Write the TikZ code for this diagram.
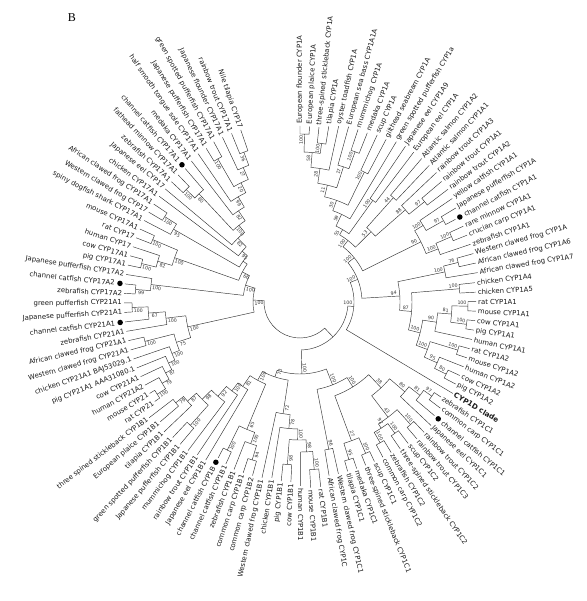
\documentclass[tikz,border=0pt]{standalone}
\usepackage{fontspec}
\setmainfont{DejaVu Sans}
\newfontfamily\panelfont{Liberation Serif}
\tikzset{
  branch/.style={draw=black!80, line width=0.45pt},
  leaflbl/.style={font=\fontsize{6.9}{7}\selectfont, inner sep=0pt, text=black!90},
  bslbl/.style={font=\fontsize{4.7}{5}\selectfont, inner sep=0pt, text=black!80},
  catdot/.style={circle, fill=black, inner sep=0pt, minimum size=5.5pt},
}
\newcommand\SetA[2]{\expandafter\xdef\csname ang@#1\endcsname{#2}}
\newcommand\GetA[1]{\csname ang@#1\endcsname}
% generic leaf: name, index, label, dot flag, extra style, tip radius
\newcommand\LeafGen[6]{%
  \pgfmathsetmacro\lfang{90-3.1*(#2-1)}%
  \SetA{#1}{\lfang}%
  \coordinate (#1) at (\lfang:#6pt);
  \ifnum#4=1
    \pgfmathsetmacro\lfd{#6+5}%
    \node[catdot] (#1-dot) at (\lfang:\lfd pt) {};
    \pgfmathsetmacro\lfr{#6+10}%
  \else
    \pgfmathsetmacro\lfr{#6+2}%
  \fi
  \pgfmathsetmacro\lfcos{cos(\lfang)}%
  \ifdim\lfcos pt<0pt
    \pgfmathsetmacro\lfrot{\lfang+180}\def\lfanc{east}%
  \else
    \pgfmathsetmacro\lfrot{\lfang}\def\lfanc{west}%
  \fi
  \node[leaflbl, anchor=\lfanc, rotate=\lfrot, #5] (#1-t) at (\lfang:\lfr pt) {#3};
}
\newcommand\Lf[3][176]{\LeafGen{l#2}{#2}{#3}{0}{}{#1}}
\newcommand\Ld[3][176]{\LeafGen{l#2}{#2}{#3}{1}{}{#1}}
% internal node: name, radius, bootstrap, children
\newcommand\In[4]{%
  \foreach \ch [count=\k] in {#4}{\ifnum\k=1 \xdef\firstch{\ch}\fi\xdef\lastch{\ch}}%
  \pgfmathsetmacro\inang{(\GetA{\firstch}+\GetA{\lastch})/2}%
  \SetA{#1}{\inang}%
  \coordinate (#1) at (\inang:#2pt);
  \foreach \ch in {#4}{%
    \draw[branch] (#1) arc[start angle=\GetA{#1}, end angle=\GetA{\ch}, radius=#2pt] -- (\ch);
  }%
  \def\bstmp{#3}%
  \ifx\bstmp\empty\else
    \pgfmathsetmacro\bsang{\inang+190/#2}%
    \pgfmathsetmacro\bsr{#2-6}%
    \pgfmathsetmacro\bscos{cos(\bsang)}%
    \ifdim\bscos pt<0pt \pgfmathsetmacro\bsrot{\bsang+180}\else\pgfmathsetmacro\bsrot{\bsang}\fi
    \node[bslbl, rotate=\bsrot] (#1-bs) at (\bsang:\bsr pt) {#3};
  \fi
}
\begin{document}
\begin{tikzpicture}
\useasboundingbox (0,0) rectangle (586pt,601pt);
\node[font=\panelfont\fontsize{12}{12}\selectfont] (panel) at (72pt,583pt) {B};
\begin{scope}[shift={(300pt,299pt)}]
% ---------- leaves ----------
\Lf{1}{European flounder CYP1A}
\Lf{2}{European plaice CYP1A}
\Lf{3}{three-spined stickleback CYP1A}
\Lf[178]{4}{tilapia CYP1A}
\Lf[180]{5}{oyster toadfish CYP1A}
\Lf[182]{6}{European sea bass CYP1A1A}
\Lf[182]{7}{mummichog CYP1A}
\Lf[182]{8}{medaka CYP1A}
\Lf[184]{9}{scup CYP1A}
\Lf[184]{10}{gilthead seabream CYP1A}
\Lf[187]{11}{green spotted pufferfish CYP1a}
\Lf[188]{12}{Japanese eel CYP1A9}
\Lf[188]{13}{European eel CYP1A}
\Lf[188]{14}{Atlantic salmon CYP1A2}
\Lf[188]{15}{Atlantic salmon CYP1A1}
\Lf[188]{16}{rainbow trout CYP1A3}
\Lf[186]{17}{rainbow trout CYP1A1}
\Lf[186]{18}{rainbow trout CYP1A2}
\Lf[184]{19}{yellow catfish CYP1A1}
\Lf[182]{20}{Japanese pufferfish CYP1A}
\Ld[176]{21}{channel catfish CYP1A1}
\Lf[180]{22}{rare minnow CYP1A1}
\Lf[180]{23}{crucian carp CYP1A1}
\Lf[180]{24}{zebrafish CYP1A1}
\Lf[180]{25}{Western clawed frog CYP1A}
\Lf[180]{26}{African clawed frog CYP1A6}
\Lf[180]{27}{African clawed frog CYP1A7}
\Lf{28}{chicken CYP1A4}
\Lf{29}{chicken CYP1A5}
\Lf{30}{rat CYP1A1}
\Lf{31}{mouse CYP1A1}
\Lf{32}{cow CYP1A1}
\Lf{33}{pig CYP1A1}
\Lf{34}{human CYP1A1}
\Lf{35}{rat CYP1A2}
\Lf{36}{mouse CYP1A2}
\Lf{37}{human CYP1A2}
\Lf{38}{cow CYP1A2}
\Lf{39}{pig CYP1A2}
\LeafGen{l40}{40}{CYP1D clade}{0}{font=\fontsize{7.2}{7}\selectfont\bfseries}{178}
\Lf[170]{41}{zebrafish CYP1C1}
\Lf[176]{42}{common carp CYP1C1}
\Ld[176]{43}{channel catfish CYP1C1}
\Lf[180]{44}{Japanese eel CYP1C1}
\Lf[180]{45}{rainbow trout CYP1C2}
\Lf[180]{46}{rainbow trout CYP1C3}
\Lf[178]{47}{scup CYP1C2}
\Lf[178]{48}{three-spined stickleback CYP1C2}
\Lf{49}{zebrafish CYP1C2}
\Lf{50}{common carp CYP1C2}
\Lf{51}{scup CYP1C1}
\Lf{52}{three-spined stickleback CYP1C1}
\Lf{53}{medaka CYP1C1}
\Lf{54}{tilapia CYP1C1}
\Lf{55}{Western clawed frog CYP1C1}
\Lf{56}{African clawed frog CYP1C}
\Lf[186]{57}{rat CYP1B1}
\Lf[186]{58}{mouse CYP1B1}
\Lf[184]{59}{human CYP1B1}
\Lf[180]{60}{cow CYP1B1}
\Lf[180]{61}{pig CYP1B1}
\Lf[178]{62}{chicken CYP1B1}
\Lf[180]{63}{Western clawed frog CYP1B1}
\Lf[180]{64}{common carp CYP1B2}
\Lf[180]{65}{common carp CYP1B1}
\Lf[180]{66}{zebrafish CYP1B1}
\Lf[178]{67}{channel catfish CYP1B1}
\Ld[176]{68}{channel catfish CYP1B}
\Lf[184]{69}{Japanese eel CYP1B1}
\Lf[184]{70}{rainbow trout CYP1B1}
\Lf[186]{71}{mummichog CYP1B1}
\Lf[186]{72}{Japanese pufferfish CYP1B1}
\Lf[186]{73}{green spotted pufferfish CYP1B1}
\Lf[188]{74}{tilapia CYP1B1}
\Lf[184]{75}{European plaice CYP1B1}
\Lf[190]{76}{three spined stickleback CYP1B1}
\Lf{77}{rat CYP21}
\Lf{78}{mouse CYP21}
\Lf{79}{human CYP21A2}
\Lf{80}{cow CYP21A1}
\Lf{81}{pig CYP21A1 AAA31080.1}
\Lf{82}{chicken CYP21A1 BAJ53029.1}
\Lf{83}{Western clawed frog CYP21A1}
\Lf{84}{African clawed frog CYP21A1}
\Lf{85}{zebrafish CYP21A1}
\Ld{86}{channel catfish CYP21A1}
\Lf{87}{Japanese pufferfish CYP21A1}
\Lf{88}{green pufferfish CYP21A1}
\Lf{89}{zebrafish CYP17A2}
\Ld{90}{channel catfish CYP17A2}
\Lf{91}{Japanese pufferfish CYP17A2}
\Lf{92}{pig CYP17A1}
\Lf{93}{cow CYP17A1}
\Lf{94}{human CYP17}
\Lf{95}{rat CYP17}
\Lf{96}{mouse CYP17A1}
\Lf{97}{spiny dogfish shark CYP17A1}
\Lf{98}{Western clawed frog CYP17}
\Lf{99}{African clawed frog CYP17A1}
\Lf{100}{chicken CYP17A1}
\Lf{101}{Japanese eel CYP17}
\Lf{102}{zebrafish CYP17A1}
\Lf{103}{fathead minnow CYP17A1}
\Ld{104}{channel catfish CYP17A1}
\Lf[178]{105}{medaka CYP17A1}
\Lf[180]{106}{half smooth tongue sole CYP17A1}
\Lf[180]{107}{Japanese pufferfish CYP17A1}
\Lf[182]{108}{green spotted pufferfish CYP17A1}
\Lf[182]{109}{Japanese flounder CYP17A1}
\Lf[182]{110}{rainbow trout CYP17A1}
\Lf[182]{111}{Nile tilapia CYP17}
% ---------- CYP1A ----------
\In{a1}{168}{100}{l1,l2}
\In{a2}{160}{100}{l3,l4}
\In{a3}{150}{58}{a1,a2}
\In{a4}{135}{28}{a3,l5}
\In{a5}{160}{100}{l7,l8}
\In{a6}{142}{17}{l6,a5}
\In{a7}{120}{11}{a4,a6}
\In{a8}{145}{100}{l9,l10}
\In{a9}{108}{30}{a7,a8}
\In{a10}{97}{59}{a9,l11}
\In{a11}{125}{100}{l12,l13}
\In{a12}{84}{55}{a10,a11}
\In{a13}{140}{44}{l14,l15}
\In{a14}{160}{97}{l17,l18}
\In{a15}{140}{88}{l16,a14}
\In{a16}{100}{53}{a13,a15}
\In{a20}{78}{100}{a12,a16}
\In{g1}{165}{97}{l20,l21}
\In{g2}{145}{100}{l19,g1}
\In{g3}{165}{100}{l22,l23}
\In{g4}{148}{100}{g3,l24}
\In{g5}{135}{90}{g2,g4}
\In{F}{70}{100}{a20,g5}
\In{fr1}{163}{76}{l25,l26}
\In{fr2}{148}{100}{fr1,l27}
\In{ch}{160}{100}{l28,l29}
\In{m1}{168}{100}{l30,l31}
\In{m2}{168}{100}{l32,l33}
\In{m3}{152}{81}{m1,m2}
\In{m4}{138}{90}{m3,l34}
\In{m5}{165}{100}{l35,l36}
\In{m6}{163}{80}{l38,l39}
\In{m7}{150}{95}{l37,m6}
\In{m8}{136}{100}{m5,m7}
\In{m9}{124}{100}{m4,m8}
\In{m10}{112}{87}{ch,m9}
\In{H}{100}{94}{fr2,m10}
\In{E}{62}{100}{F,H}
\In{D}{54}{100}{E,l40}
% ---------- CYP1C ----------
\In{c1}{162}{97}{l41,l42}
\In{c2}{152}{81}{c1,l43}
\In{c3}{138}{80}{c2,l44}
\In{c4}{165}{100}{l45,l46}
\In{c5}{162}{100}{l47,l48}
\In{c6}{162}{100}{l49,l50}
\In{c7}{150}{92}{c5,c6}
\In{c8}{145}{43}{c4,c7}
\In{c9}{118}{38}{c3,c8}
\In{c10}{165}{100}{l51,l52}
\In{c11}{165}{95}{l53,l54}
\In{c12}{148}{27}{c10,c11}
\In{c13}{100}{100}{c9,c12}
\In{c14}{150}{96}{l55,l56}
\In{C1}{89}{100}{c13,c14}
% ---------- CYP1B ----------
\In{t1}{168}{100}{l57,l58}
\In{t2}{150}{98}{t1,l59}
\In{t3}{163}{98}{l60,l61}
\In{t4}{138}{100}{t2,t3}
\In{t5}{127}{78}{t4,l62}
\In{t6}{113}{72}{t5,l63}
\In{f1}{165}{94}{l64,l65}
\In{f2}{150}{100}{f1,l66}
\In{f3}{165}{100}{l67,l68}
\In{f4}{138}{65}{f2,f3}
\In{f5}{165}{100}{l72,l73}
\In{f6}{160}{79}{l75,l76}
\In{f7}{150}{87}{l74,f6}
\In{f8}{138}{98}{f5,f7}
\In{f9}{125}{92}{l71,f8}
\In{f10}{112}{100}{l70,f9}
\In{f11}{102}{81}{l69,f10}
\In{f12}{89}{100}{f4,f11}
\In{C2}{79}{73}{t6,f12}
\In{C}{72}{100}{C1,C2}
\In{B}{48}{}{C,D}
% ---------- CYP21 ----------
\In{p1}{170}{100}{l77,l78}
\In{p2}{160}{79}{l79,p1}
\In{p3}{152}{87}{l80,p2}
\In{p4}{145}{100}{l81,p3}
\In{p5}{138}{100}{l82,p4}
\In{p6}{160}{100}{l83,l84}
\In{p7}{130}{75}{p5,p6}
\In{p8}{168}{100}{l87,l88}
\In{p9}{152}{67}{l86,p8}
\In{p10}{135}{100}{l85,p9}
\In{p11}{115}{100}{p7,p10}
% ---------- CYP17 ----------
\In{q1}{165}{99}{l89,l90}
\In{q2}{150}{100}{q1,l91}
\In{r1}{163}{100}{l92,l93}
\In{r2}{148}{82}{r1,l94}
\In{r3}{160}{100}{l95,l96}
\In{r4}{133}{100}{r2,r3}
\In{s1}{160}{100}{l98,l99}
\In{s2}{146}{95}{l97,s1}
\In{u1}{160}{100}{l102,l103}
\In{u2}{148}{80}{u1,l104}
\In{u3}{165}{100}{l107,l108}
\In{u4}{160}{36}{l110,l111}
\In{u5}{146}{27}{l109,u4}
\In{u6}{133}{20}{u3,u5}
\In{u7}{122}{99}{l106,u6}
\In{u8}{110}{82}{l105,u7}
\In{u9}{98}{100}{u2,u8}
\In{u10}{89}{82}{l101,u9}
\In{u11}{77}{95}{l100,u10}
\In{u12}{70}{}{s2,u11}
\In{u13}{65}{66}{r4,u12}
\In{Q}{57}{100}{q2,u13}
\In{A}{47}{100}{p11,Q}
\In{root}{36}{}{A,B}
\end{scope}
\end{tikzpicture}
\end{document}
